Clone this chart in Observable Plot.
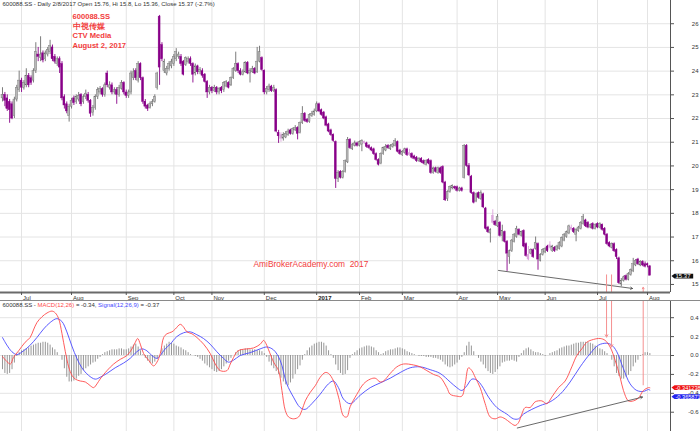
<!DOCTYPE html>
<html><head><meta charset="utf-8">
<script src="https://cdn.jsdelivr.net/npm/d3@7"></script>
<script src="https://cdn.jsdelivr.net/npm/@observablehq/plot@0.6"></script>
<style>
body{margin:0;background:#fff;}
#wrap{position:relative;width:700px;height:431px;overflow:hidden;background:#fff;}
#price{position:absolute;left:0;top:0;}
#macd{position:absolute;left:0;top:300px;}
#sep{position:absolute;left:0;top:300px;width:700px;height:1px;background:#8a8a8a;}
svg{overflow:visible}
</style></head><body>
<div id="wrap"><div id="price"></div><div id="macd"></div><div id="sep"></div></div>
<script>
// ---------- data ----------
const open = [22.85,23.0,22.85,22.7,22.6,22.1,22.8,23.2,23.6,23.3,
23.4,23.8,23.7,23.6,24.0,24.7,24.55,24.75,24.5,24.7,
24.8,25.0,24.6,24.3,24.5,24.3,22.9,22.6,22.1,22.5,
22.85,22.7,22.8,23.0,22.7,22.9,23.0,22.75,22.25,22.45,
22.9,23.1,23.25,23.0,23.9,23.3,23.4,23.1,23.2,23.0,
23.25,23.5,23.1,22.95,23.1,23.7,24.0,23.6,24.3,23.7,
22.7,22.55,22.45,22.6,22.7,23.3,26.3,25.1,24.0,23.9,
24.1,24.2,24.3,24.5,24.6,24.6,24.4,24.25,24.4,24.5,
24.3,23.9,24.2,23.95,24.0,23.85,23.55,23.1,23.3,23.15,
23.3,23.1,23.3,23.2,23.35,23.5,23.4,23.7,24.0,24.3,
24.0,23.85,23.95,24.35,23.9,23.95,24.1,23.95,24.4,24.55,
24.0,23.1,23.2,23.35,23.15,23.2,21.4,21.3,21.15,21.2,
21.3,21.5,21.35,21.5,21.6,21.4,21.8,22.2,21.95,21.85,
22.1,22.15,22.3,22.6,22.35,22.25,22.05,21.75,21.5,21.3,
21.0,19.45,19.75,19.5,19.75,20.15,21.1,20.7,20.85,20.95,
20.85,20.9,21.0,20.95,20.85,20.75,20.7,20.5,20.25,20.1,
20.5,20.65,20.85,20.7,20.8,20.85,21.0,20.65,20.45,20.55,
20.7,20.55,20.5,20.4,20.35,20.2,20.3,20.2,20.05,20.25,
20.2,19.7,19.9,19.7,19.9,19.95,19.3,18.6,18.9,19.05,
19.1,19.1,18.95,19.05,19.5,20.85,20.0,19.55,18.85,18.5,
18.85,18.6,18.8,18.2,17.4,17.15,17.9,17.65,17.45,17.6,
17.05,17.2,16.8,16.15,16.4,16.8,17.0,17.3,17.05,17.25,
16.7,16.25,16.3,16.45,16.5,16.7,16.0,16.25,16.35,16.6,
16.65,16.4,16.55,16.45,16.5,16.6,16.85,17.0,17.15,17.4,
17.35,17.1,17.25,17.35,17.55,17.7,17.6,17.4,17.55,17.35,
17.55,17.4,17.5,17.35,17.1,16.75,16.55,16.7,16.45,16.1,
15.0,15.15,15.35,15.2,15.4,15.55,15.8,16.05,15.8,15.95,
15.85,15.85,15.76];
const close = [23.0,22.75,22.4,22.35,22.0,22.8,23.3,23.6,23.3,23.5,
23.8,23.4,23.5,24.0,24.8,24.6,24.7,24.45,24.75,24.9,
25.05,24.5,24.4,24.5,24.15,22.85,22.55,22.3,22.5,22.75,
22.65,22.9,22.95,22.6,22.9,23.05,22.75,22.2,22.45,22.9,
23.2,23.25,23.0,23.4,23.4,23.4,23.1,23.2,23.0,23.3,
23.5,23.1,22.95,23.1,23.9,23.95,23.7,24.3,23.7,22.7,
22.5,22.4,22.6,22.7,22.9,23.9,24.15,24.5,24.4,24.1,
24.3,24.4,24.6,24.8,24.7,24.3,23.85,24.55,24.5,24.3,
23.85,24.2,23.95,24.05,23.8,23.55,23.1,23.3,23.15,23.3,
23.1,23.25,23.15,23.5,23.55,23.3,23.7,24.1,24.3,24.0,
23.85,23.95,24.35,23.9,24.0,24.1,23.9,24.4,24.8,24.05,
23.1,23.25,23.35,23.15,23.3,21.45,21.25,21.15,21.3,21.35,
21.45,21.35,21.55,21.6,21.35,21.8,22.2,21.9,21.85,22.15,
22.2,22.3,22.6,22.3,22.15,22.0,21.7,21.45,21.3,21.05,
19.45,19.7,19.5,19.75,20.2,21.1,20.75,20.9,20.95,20.85,
21.0,21.05,20.95,20.8,20.75,20.65,20.5,20.25,20.05,20.5,
20.75,20.8,20.75,20.85,20.9,21.05,20.6,20.5,20.6,20.7,
20.45,20.45,20.35,20.3,20.2,20.3,20.15,20.1,20.2,20.1,
19.7,19.9,19.75,19.9,19.7,19.3,18.55,18.9,19.1,19.15,
19.05,18.95,19.05,18.95,20.85,20.0,19.6,18.85,18.45,18.8,
18.65,18.85,18.25,17.35,17.2,17.3,17.6,17.5,17.85,17.05,
17.25,16.8,16.3,16.4,16.85,17.1,17.35,17.1,17.2,16.6,
16.2,16.05,16.45,16.15,16.75,16.05,16.25,16.45,16.5,16.4,
16.55,16.6,16.4,16.6,16.75,16.95,17.1,17.2,17.45,17.3,
17.2,17.3,17.4,17.6,17.85,17.45,17.4,17.5,17.35,17.5,
17.4,17.55,17.3,17.1,16.7,16.6,16.7,16.4,16.15,15.05,
15.15,15.3,15.2,15.45,15.6,15.85,16.0,15.85,15.95,15.8,
15.75,15.8,15.37];
const high = [23.3,23.1,23.0,22.8,22.7,22.9,23.4,24.0,23.7,23.6,
24.1,23.9,23.8,24.1,25.2,25.0,25.45,24.85,24.85,25.0,
25.3,25.1,24.7,24.6,24.6,24.4,23.0,22.7,22.6,22.85,
22.95,23.0,23.1,23.05,23.0,23.2,23.1,22.8,22.55,23.0,
23.3,23.35,23.3,23.5,24.0,23.55,23.5,23.3,23.3,23.4,
23.6,23.55,23.2,23.2,24.0,24.1,24.1,24.4,24.35,23.75,
22.8,22.6,22.7,22.8,23.0,23.95,26.35,25.2,24.5,24.2,
24.4,24.5,24.7,24.95,24.8,24.7,24.45,24.6,24.6,24.6,
24.35,24.3,24.25,24.15,24.1,23.9,23.6,23.4,23.35,23.4,
23.35,23.3,23.35,23.55,23.6,23.55,23.75,24.15,24.8,24.35,
24.1,24.05,24.4,24.4,24.1,24.2,24.15,25.0,25.05,24.6,
24.05,23.35,23.45,23.4,23.4,23.25,21.5,21.4,21.4,21.45,
21.55,21.55,21.6,21.7,21.65,21.85,22.5,22.25,22.0,22.2,
22.3,22.4,22.7,22.65,22.4,22.3,22.1,21.8,21.55,21.35,
21.05,19.8,19.8,19.8,20.25,21.2,21.15,20.95,21.05,21.0,
21.05,21.1,21.05,21.0,20.9,20.8,20.75,20.55,20.3,20.55,
20.8,20.9,20.9,20.9,20.95,21.15,21.05,20.7,20.65,20.75,
20.75,20.7,20.55,20.45,20.4,20.35,20.35,20.25,20.25,20.3,
20.25,19.95,19.95,19.95,19.95,20.0,19.35,18.95,19.15,19.2,
19.15,19.15,19.1,19.1,20.9,20.9,20.1,19.6,18.9,18.85,
18.9,18.95,18.85,18.25,17.45,17.35,18.15,17.7,17.95,17.65,
17.5,17.25,16.85,16.45,16.9,17.15,17.45,17.35,17.25,17.3,
16.75,16.6,16.5,16.5,17.0,16.75,16.3,16.5,16.55,16.65,
16.8,16.65,16.6,16.65,16.8,17.0,17.15,17.25,17.5,17.5,
17.4,17.35,17.45,17.65,17.95,17.75,17.65,17.55,17.6,17.55,
17.6,17.6,17.55,17.4,17.15,16.8,16.75,16.75,16.5,16.15,
15.25,15.35,15.4,15.5,15.65,16.1,16.05,16.1,16.0,16.0,
15.95,15.9,15.8];
const low = [22.7,22.5,22.3,21.8,21.95,22.0,22.7,23.1,23.1,23.2,
23.3,23.3,23.4,23.5,23.9,24.4,24.4,24.35,24.4,24.6,
24.7,24.4,24.3,24.2,23.9,22.75,22.4,22.2,21.85,22.4,
22.55,22.6,22.7,22.5,22.6,22.8,22.65,22.05,22.1,22.35,
22.8,23.0,22.9,22.9,23.3,23.2,23.0,23.0,22.6,22.9,
23.2,23.0,22.85,22.85,23.0,23.6,23.6,23.5,23.6,22.6,
22.4,22.3,22.4,22.5,22.65,23.2,23.4,24.4,23.9,23.8,
24.0,24.1,24.2,24.4,24.5,24.2,23.8,24.2,24.3,24.2,
23.5,23.8,23.85,23.85,23.7,23.5,22.85,23.0,23.05,23.1,
23.0,23.0,23.05,23.1,23.3,23.25,23.35,23.65,23.95,23.9,
23.8,23.8,23.9,23.85,23.5,23.9,23.85,23.9,24.35,24.0,
23.0,23.0,23.1,23.1,23.1,21.4,20.95,21.0,21.05,21.15,
21.25,21.3,21.3,21.45,21.1,21.35,21.75,21.85,21.8,21.8,
22.05,22.1,22.25,22.25,22.1,21.95,21.65,21.4,21.25,21.0,
19.05,19.3,19.45,19.45,19.7,20.1,20.7,20.65,20.8,20.8,
20.8,20.6,20.9,20.75,20.7,20.6,20.45,20.2,20.0,20.05,
20.45,20.6,20.7,20.65,20.75,20.8,20.55,20.45,20.4,20.5,
20.4,20.4,20.3,20.25,20.15,20.15,20.1,20.05,20.0,20.05,
19.65,19.65,19.7,19.65,19.65,19.25,18.5,18.5,18.85,19.0,
19.0,18.9,18.9,18.9,19.45,19.95,19.55,18.8,18.4,18.45,
18.6,18.55,18.2,17.3,17.15,16.75,17.55,17.45,17.4,17.0,
16.8,16.75,15.55,15.85,16.35,16.75,16.95,17.05,17.0,16.55,
16.15,16.0,16.25,16.1,16.45,15.6,15.95,16.2,16.3,16.35,
16.5,16.35,16.35,16.4,16.45,16.55,16.8,16.95,17.1,17.25,
17.15,16.8,17.2,17.3,17.5,17.4,17.35,17.35,17.3,17.3,
17.35,17.35,17.25,17.05,16.65,16.55,16.5,16.35,16.05,15.0,
14.9,15.1,15.15,15.15,15.35,15.5,15.75,15.8,15.75,15.75,
15.7,15.7,15.36];
const lightBars = [117,152,171,206,221,230,239];
const hist = [-0.15,-0.19,-0.2,-0.19,-0.15,-0.08,-0.01,0.03,0.05,0.06,
0.07,0.08,0.1,0.11,0.12,0.13,0.13,0.14,0.14,0.13,
0.11,0.08,0.06,0.03,0.0,-0.05,-0.14,-0.23,-0.28,-0.28,
-0.27,-0.25,-0.22,-0.2,-0.16,-0.14,-0.12,-0.1,-0.08,-0.07,
-0.04,-0.02,0.01,0.03,0.04,0.05,0.06,0.06,0.06,0.07,
0.07,0.06,0.06,0.07,0.09,0.11,0.12,0.09,0.05,0.01,
-0.03,-0.06,-0.08,-0.09,-0.07,-0.04,0.0,0.07,0.1,0.12,
0.14,0.13,0.12,0.1,0.09,0.08,0.06,0.05,0.03,0.01,
0.0,-0.01,-0.02,-0.04,-0.06,-0.09,-0.11,-0.13,-0.15,-0.17,
-0.18,-0.17,-0.15,-0.12,-0.09,-0.06,-0.03,0.0,0.03,0.05,
0.06,0.06,0.07,0.07,0.06,0.06,0.06,0.05,0.05,0.04,
0.02,-0.02,-0.07,-0.11,-0.14,-0.17,-0.2,-0.24,-0.28,-0.31,
-0.32,-0.29,-0.25,-0.2,-0.15,-0.11,-0.05,0.01,0.05,0.08,
0.1,0.12,0.13,0.14,0.14,0.13,0.1,0.05,0.01,-0.03,
-0.1,-0.16,-0.19,-0.21,-0.2,-0.16,-0.03,0.01,0.03,0.05,
0.07,0.08,0.09,0.1,0.1,0.09,0.08,0.05,0.03,0.01,
0.02,0.04,0.05,0.06,0.06,0.07,0.08,0.08,0.07,0.06,
0.04,0.03,0.02,0.01,0.0,-0.01,-0.01,-0.01,-0.02,-0.02,
-0.02,-0.03,-0.03,-0.04,-0.05,-0.07,-0.1,-0.12,-0.13,-0.12,
-0.1,-0.08,-0.05,-0.02,0.03,0.1,0.14,0.1,0.04,0.0,
-0.03,-0.07,-0.1,-0.14,-0.17,-0.19,-0.2,-0.18,-0.15,-0.12,
-0.08,-0.07,-0.06,-0.06,-0.05,-0.06,-0.07,-0.02,0.02,0.05,
0.07,0.08,0.06,0.04,0.03,0.03,0.02,0.01,-0.01,0.0,
0.02,0.03,0.04,0.05,0.07,0.08,0.09,0.1,0.1,0.11,
0.12,0.13,0.13,0.14,0.14,0.14,0.14,0.13,0.12,0.1,
0.09,0.07,0.06,0.04,0.02,0.0,-0.05,-0.12,-0.19,-0.22,
-0.25,-0.25,-0.23,-0.21,-0.17,-0.12,-0.08,-0.05,-0.01,0.01,
0.03,0.03,0.02];
const macdIdx = [0,3.3,4.6,6.8,9.5,11.6,13,14.5,16.6,18.7,20.8,22.2,23.6,25,26.4,27.8,29.2,30.6,32.7,34.8,36.9,38.3,39.7,41,43.9,46.7,49.5,52.3,54.4,55.8,56.8,57.9,59.3,61.4,63.5,64.9,66.3,67.7,69.1,71.2,72.6,74.7,76.1,77.5,79.6,81.7,84.5,87.3,89.4,91.5,94.3,95.7,97.1,98.5,99.9,102.7,105.5,108.3,109.7,110.4,111.8,113.9,116,117.4,118.8,120.2,122.3,124.4,125.8,127.2,129.3,131.4,133.5,135.6,137,139.1,141.2,143.3,144.7,146.1,148.9,151.7,154.5,156.6,158.7,160.1,162.9,165.7,168.5,172.7,175.5,178.3,181.1,183.9,186.7,188.1,190.9,193,194.4,195.8,197.2,198.6,200.7,202.8,204.9,207,209.1,211.2,213.3,215.4,216.8,218.2,219.6,221.7,223.8,226.6,228.7,230.8,233.6,236.4,239.2,241.3,243.4,245.5,248.3,251.1,253.2,255.3,257.4,259.5,260.9,263,265.1,267.2,269.3,271.4,272];
const macdVal = [-0.01,-0.09,-0.02,0.05,0.14,0.19,0.27,0.35,0.41,0.45,0.47,0.45,0.39,0.23,0.04,-0.12,-0.21,-0.25,-0.27,-0.28,-0.32,-0.34,-0.3,-0.25,-0.16,-0.09,-0.04,0.0,0.07,0.14,0.18,0.12,0.02,-0.05,-0.11,-0.07,0.02,0.19,0.23,0.25,0.28,0.33,0.3,0.25,0.23,0.19,0.12,0.02,-0.09,-0.16,-0.16,-0.09,-0.02,0.04,0.06,0.07,0.08,0.12,0.16,0.14,0.06,-0.07,-0.16,-0.37,-0.58,-0.65,-0.67,-0.65,-0.58,-0.48,-0.39,-0.32,-0.23,-0.18,-0.19,-0.27,-0.44,-0.64,-0.65,-0.54,-0.41,-0.3,-0.25,-0.24,-0.28,-0.27,-0.19,-0.12,-0.09,-0.1,-0.12,-0.16,-0.2,-0.23,-0.34,-0.41,-0.43,-0.43,-0.3,-0.13,-0.16,-0.23,-0.34,-0.51,-0.65,-0.67,-0.65,-0.67,-0.71,-0.74,-0.71,-0.62,-0.55,-0.55,-0.49,-0.48,-0.51,-0.44,-0.34,-0.27,-0.12,0.0,0.07,0.14,0.17,0.18,0.16,0.09,-0.05,-0.23,-0.37,-0.48,-0.48,-0.45,-0.37,-0.34,-0.341];
const sigIdx = [0,1.85,3.95,6.05,8.85,11.65,14.45,17.25,20.05,22.85,24.95,27.05,29.15,31.25,33.35,36.15,38.95,41.05,43.85,47.35,50.85,53.65,56.45,58.55,60.65,62.75,64.85,66.25,68.35,70.45,73.25,76.05,78.85,81.65,84.45,87.25,90.05,92.85,94.95,97.05,99.85,104.05,108.25,111.05,113.85,116.65,119.45,122.25,125.05,127.15,129.95,133.45,136.95,139.05,141.15,143.25,146.1,150.3,154.5,158.7,162.9,167.1,171.3,175.5,179.7,183.9,188.1,190.9,193,195.1,197.2,199.3,201.4,204.2,207.7,211.9,214.7,216.8,218.9,222.4,225.9,230.1,234.3,238.5,242.7,246.9,250.4,253.9,256,258.1,260.9,263.7,266.5,269.3,271.4,272];
const sigVal = [0.19,0.11,0.04,0.01,0.05,0.11,0.19,0.28,0.35,0.39,0.36,0.25,0.1,-0.03,-0.13,-0.21,-0.25,-0.23,-0.19,-0.13,-0.08,-0.03,0.04,0.07,0.05,0.0,-0.03,0.0,0.07,0.12,0.2,0.24,0.25,0.22,0.18,0.12,0.04,-0.03,-0.07,-0.05,0.0,0.03,0.07,0.09,0.06,-0.05,-0.3,-0.44,-0.55,-0.57,-0.51,-0.41,-0.3,-0.27,-0.34,-0.46,-0.51,-0.42,-0.34,-0.29,-0.24,-0.18,-0.13,-0.12,-0.15,-0.19,-0.28,-0.34,-0.37,-0.32,-0.25,-0.26,-0.32,-0.44,-0.55,-0.62,-0.67,-0.67,-0.62,-0.57,-0.53,-0.49,-0.41,-0.28,-0.12,0.02,0.11,0.13,0.11,0.04,-0.14,-0.3,-0.37,-0.38,-0.36,-0.366];

const monthIdx = [8,29,52,72,88,110,132,150,168,191,208,228,250,271];
const monthLabels = ["Jul","Aug","Sep","Oct","Nov","Dec","2017","Feb","Mar","Apr","May","Jun","Jul","Aug"];
const priceTicks = [15,16,17,18,19,20,21,22,23,24,25,26];
const macdTicks = [0.4,0.2,0,-0.2,-0.4,-0.6];

const headerText = "600088.SS - Daily 2/8/2017 Open 15.76, Hi 15.8, Lo 15.36, Close 15.37 (-2.7%)";
const titleLines = ["600088.SS","中視传媒","CTV Media","August 2, 2017"];
const watermark = "AmiBrokerAcademy.com\u00a0\u00a02017";
const macdHeaderParts = ["600088.SS - ","MACD(12,26)"," = -0.34, ","Signal(12,26,9)"," = -0.37"];
const lastClose = [15.37];
const macdLast = [-0.341238];
const sigLast = [-0.365871];

// annotation lines (bar index / price / MACD value)
const priceTrend = [{x1: 208.4, y1: 15.59, x2: 264.7, y2: 14.83}];
const macdTrend = [{x1: 216.3, y1: -0.767, x2: 268.9, y2: -0.44}];
const redDown = [{x: 253.8, price: 15.4, macd: 0.195}, {x: 255.9, price: 15.4, macd: 0.09}];
const redUp = [{x: 269.2, macd: -0.32, price: 14.88}];

// ---------- layout / style ----------
const FONT = "'Liberation Sans', Arial, sans-serif";
const xDom = [-0.84, 280.67];
const yPriceDom = [14.66, 26.98];
const yMacdDom = [-0.804, 0.582];
const GRID = "#e4e4e4";
const DOWN = "#880088", UP_FILL = "#b8b8b8", UP_STROKE = "#6c6c6c", LIGHT = "#dca6dc";
const RED_TXT = "#f23c3c", RED_LINE = "#f59090", MACD_RED = "#ff4a4a", SIG_BLUE = "#4848ff";

const bars = open.map((o, i) => ({i, open: o, high: high[i], low: low[i], close: close[i], hist: hist[i], light: lightBars.includes(i)}));
const bodyFill = d => d.light ? LIGHT : d.close < d.open ? DOWN : UP_FILL;
const bodyStroke = d => d.light ? LIGHT : d.close < d.open ? DOWN : UP_STROKE;
const months = monthIdx.map((i, k) => ({i, label: monthLabels[k]}));
const isYear = d => /^\d{4}$/.test(d.label);
const macdPts = macdIdx.map((i, k) => ({i, v: macdVal[k]}));
const sigPts = sigIdx.map((i, k) => ({i, v: sigVal[k]}));

const pricePlot = Plot.plot({
  width: 700, height: 300,
  marginLeft: 0, marginRight: 30, marginTop: 0, marginBottom: 8,
  x: {domain: xDom, axis: null},
  y: {domain: yPriceDom, axis: null},
  color: {type: "identity"},
  style: {fontFamily: FONT, fontSize: "6px", background: "transparent", overflow: "visible", color: "#333"},
  marks: [
    Plot.ruleY(priceTicks, {stroke: GRID}),
    Plot.ruleX(monthIdx, {stroke: GRID}),
    Plot.ruleX(bars, {x: "i", y1: "low", y2: "high", stroke: bodyStroke, strokeWidth: 0.9}),
    Plot.rect(bars, {x1: d => d.i - 0.4, x2: d => d.i + 0.4, y1: "open", y2: "close", fill: bodyFill, stroke: bodyStroke, strokeWidth: 0.4}),
    Plot.arrow(priceTrend, {x1: "x1", y1: "y1", x2: "x2", y2: "y2", stroke: "#444", strokeWidth: 0.8, headLength: 4}),
    Plot.ruleX(redDown, {x: "x", y1: "price", y2: () => yPriceDom[0], stroke: RED_LINE, strokeWidth: 1}),
    Plot.arrow(redUp, {x1: "x", x2: "x", y1: () => yPriceDom[0], y2: "price", stroke: RED_LINE, strokeWidth: 1, headLength: 4}),
    Plot.ruleX([xDom[1]], {stroke: "#555"}),
    Plot.ruleY([yPriceDom[0]], {stroke: "#6a6a6a", strokeWidth: 2}),
    Plot.axisY(priceTicks, {anchor: "right", tickSize: 3, tickFormat: () => "", label: null, stroke: "#555"}),
    Plot.text(priceTicks, {y: d => d, text: d => String(d), frameAnchor: "right", dx: 28, textAnchor: "end", fill: "#333", fontSize: 6}),
    Plot.axisX(monthIdx, {anchor: "bottom", tickSize: 3, tickFormat: () => "", label: null, stroke: "#555"}),
    Plot.text(months.filter(d => !isYear(d)), {x: "i", text: "label", frameAnchor: "bottom", lineAnchor: "top", dy: 3, dx: 1.5, textAnchor: "start", fill: "#333", fontSize: 6}),
    Plot.text(months.filter(isYear), {x: "i", text: "label", frameAnchor: "bottom", lineAnchor: "top", dy: 3, dx: 1.5, textAnchor: "start", fill: "#222", fontSize: 6, fontWeight: "bold"}),
    Plot.text([headerText], {text: d => d, frameAnchor: "top-left", dx: 2, dy: 1.5, lineAnchor: "top", textAnchor: "start", fill: "#333", fontSize: 6}),
    Plot.text([titleLines.join("\n")], {text: d => d, frameAnchor: "top-left", dx: 72, dy: 11.5, lineAnchor: "top", textAnchor: "start", lineHeight: 1.27, fontSize: 7.6, fontWeight: "bold", fill: RED_TXT}),
    Plot.text([watermark], {text: d => d, frameAnchor: "top-left", dx: 253, dy: 261, lineAnchor: "top", textAnchor: "start", fontSize: 8.4, fill: RED_TXT}),
    Plot.text(lastClose, {y: d => d, text: d => d.toFixed(2), frameAnchor: "right", dx: 5, dy: 0.5, textAnchor: "start", fill: "white", fontSize: 6})
  ]
});

const macdPlot = Plot.plot({
  width: 700, height: 131,
  marginLeft: 0, marginRight: 30, marginTop: 0, marginBottom: 0,
  x: {domain: xDom, axis: null},
  y: {domain: yMacdDom, axis: null},
  color: {type: "identity"},
  style: {fontFamily: FONT, fontSize: "6px", background: "transparent", overflow: "visible", color: "#333"},
  marks: [
    Plot.ruleY(macdTicks, {stroke: GRID}),
    Plot.ruleX(monthIdx, {stroke: GRID}),
    Plot.ruleX(bars, {x: "i", y1: () => 0, y2: "hist", stroke: "#8a8a8a", strokeWidth: 0.9}),
    Plot.line(sigPts, {x: "i", y: "v", curve: "catmull-rom", stroke: SIG_BLUE, strokeWidth: 0.9}),
    Plot.line(macdPts, {x: "i", y: "v", curve: "catmull-rom", stroke: MACD_RED, strokeWidth: 0.9}),
    Plot.arrow(macdTrend, {x1: "x1", y1: "y1", x2: "x2", y2: "y2", stroke: "#444", strokeWidth: 0.8, headLength: 4}),
    Plot.arrow(redDown, {x1: "x", x2: "x", y1: () => yMacdDom[1], y2: "macd", stroke: RED_LINE, strokeWidth: 1, headLength: 4}),
    Plot.ruleX(redUp, {x: "x", y1: "macd", y2: () => yMacdDom[1], stroke: RED_LINE, strokeWidth: 1}),
    Plot.ruleX([xDom[1]], {stroke: "#555"}),
    Plot.axisY(macdTicks, {anchor: "right", tickSize: 3, tickFormat: () => "", label: null, stroke: "#555"}),
    Plot.text(macdTicks, {y: d => d, text: d => d.toFixed(1), frameAnchor: "right", dx: 28, textAnchor: "end", fill: "#333", fontSize: 6}),
    Plot.text([macdHeaderParts.join("")], {text: d => d, frameAnchor: "top-left", dx: 2, dy: 2, lineAnchor: "top", textAnchor: "start", fill: "#333", fontSize: 6}),
    Plot.text(macdLast, {y: d => d, text: d => d.toFixed(6), frameAnchor: "right", dx: 5, dy: 0, textAnchor: "start", fill: "white", fontSize: 5.6}),
    Plot.text(sigLast, {y: d => d, text: d => d.toFixed(6), frameAnchor: "right", dx: 5, dy: 6.8, textAnchor: "start", fill: "white", fontSize: 5.6})
  ]
});

document.getElementById("price").appendChild(pricePlot);
document.getElementById("macd").appendChild(macdPlot);

// value boxes behind the last-value labels
function boxify(svg, str, color) {
  const t = Array.from(svg.querySelectorAll("text")).find(e => e.textContent === str);
  if (!t) return;
  const b = t.getBBox();
  const p = document.createElementNS("http://www.w3.org/2000/svg", "path");
  const x0 = b.x - 1, y0 = b.y + 0.6, w = b.width + 3, h = b.height - 1.2;
  p.setAttribute("d", `M${x0 - 3},${y0 + h / 2}L${x0},${y0}H${x0 + w}V${y0 + h}H${x0}Z`);
  p.setAttribute("fill", color);
  p.setAttribute("stroke", "none");
  if (t.getAttribute("transform")) p.setAttribute("transform", t.getAttribute("transform"));
  t.parentNode.insertBefore(p, t);
}
boxify(pricePlot, lastClose[0].toFixed(2), "#111");
boxify(macdPlot, macdLast[0].toFixed(6), "#ee1111");
boxify(macdPlot, sigLast[0].toFixed(6), "#2222ee");

// colour the MACD header pieces
(function () {
  const full = macdHeaderParts.join("");
  const t = Array.from(macdPlot.querySelectorAll("text")).find(e => e.textContent === full);
  if (!t) return;
  const cols = ["#333", MACD_RED, "#333", SIG_BLUE, "#333"];
  t.textContent = "";
  t.setAttribute("style", "white-space:pre");
  macdHeaderParts.forEach((s, k) => {
    const ts = document.createElementNS("http://www.w3.org/2000/svg", "tspan");
    ts.textContent = s;
    ts.setAttribute("fill", cols[k]);
    t.appendChild(ts);
  });
})();
</script>
</body></html>
